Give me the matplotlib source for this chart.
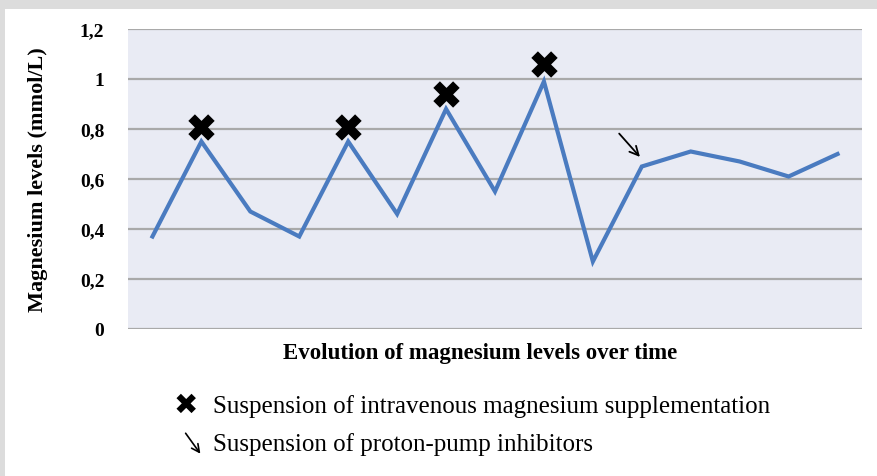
import numpy as np
import matplotlib.pyplot as plt
from matplotlib.patches import Rectangle, FancyArrowPatch

# data
mg = [0.37, 0.75, 0.47, 0.37, 0.75, 0.46, 0.88, 0.55, 0.99, 0.27, 0.65, 0.71, 0.67, 0.61, 0.70]
stop_iv = [1, 4, 6, 8]          # points where IV magnesium was stopped
stop_iv_y = [0.81, 0.81, 0.94, 1.06]
stop_ppi = 10                   # point where PPIs were stopped
yticks = [0, 0.2, 0.4, 0.6, 0.8, 1.0, 1.2]
ylabels = ['0', '0,2', '0,4', '0,6', '0,8', '1', '1,2']

W, H = 877, 477
fig = plt.figure(figsize=(W / 100, H / 100), dpi=100, facecolor='#dcdcdc')
fig.patches.append(Rectangle((5 / W, 0), 1 - 5 / W, 1 - 10 / H, transform=fig.transFigure,
                             facecolor='white', edgecolor='none', zorder=-5))

ax = fig.add_axes([128 / W, 1 - 330 / H, 734 / W, 300 / H])
ax.set_facecolor('#e9ebf4')
x = np.arange(len(mg))
ax.plot(x, mg, color='#4a7bc0', lw=3, solid_joinstyle='miter', zorder=3)
ax.scatter(stop_iv, stop_iv_y, marker='X', s=360, c='black', zorder=4, linewidths=0)
ax.annotate('', xy=(stop_ppi, mg[stop_ppi] + 0.03), xytext=(stop_ppi - 0.5, mg[stop_ppi] + 0.14),
            arrowprops=dict(arrowstyle='->', color='black', lw=1.3, mutation_scale=16), zorder=5)

ax.set_xlim(-0.5, len(mg) - 0.5)
ax.set_ylim(0, 1.2)
ax.set_yticks(yticks)
ax.set_yticklabels(ylabels, fontfamily='Liberation Serif', fontweight='bold', fontsize=14)
ax.set_xticks([])
ax.tick_params(axis='y', length=0, pad=17)
ax.grid(axis='y', color='#a9a9a9', lw=1.6)
ax.set_axisbelow(True)
for s in ax.spines.values():
    s.set_visible(False)
ax.set_ylabel('Magnesium levels (mmol/L)', fontfamily='Liberation Serif', fontweight='bold',
              fontsize=16, labelpad=23)
ax.set_xlabel('Evolution of magnesium levels over time', fontfamily='Liberation Serif',
              fontweight='bold', fontsize=16.5)
ax.xaxis.set_label_coords(0.48, -0.045, transform=ax.transAxes)
ax.xaxis.label.set_va('top')

# legend drawn as text under the chart
fig.text(186 / W, 1 - 406 / H, '\u2716', fontsize=21, ha='center', va='center', color='black',
         fontfamily='DejaVu Sans')
fig.text(213 / W, 1 - 407 / H, 'Suspension of intravenous magnesium supplementation',
         fontfamily='Liberation Serif', fontsize=18, va='center')
fig.patches.append(FancyArrowPatch((184 / W, 1 - 432 / H), (202 / W, 1 - 457 / H),
                   transform=fig.transFigure, arrowstyle='->', mutation_scale=14, lw=1.2,
                   color='black'))
fig.text(213 / W, 1 - 445 / H, 'Suspension of proton-pump inhibitors',
         fontfamily='Liberation Serif', fontsize=18, va='center')

fig.savefig('out.png', dpi=100, facecolor=fig.get_facecolor())
